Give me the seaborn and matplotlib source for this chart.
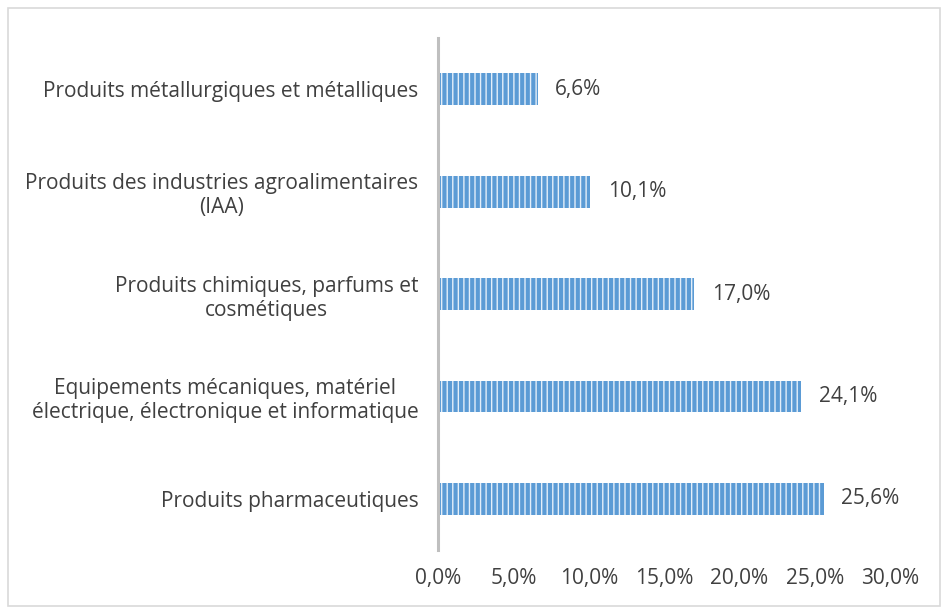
import matplotlib
matplotlib.use("Agg")
import matplotlib.pyplot as plt
import matplotlib.patches as mpatches
from matplotlib.ticker import FuncFormatter
import pandas as pd
import seaborn as sns

# ===== Data =====
categories = [
    "Produits métallurgiques et métalliques",
    "Produits des industries agroalimentaires\n(IAA)",
    "Produits chimiques, parfums et\ncosmétiques",
    "Equipements mécaniques, matériel\nélectrique, électronique et informatique",
    "Produits pharmaceutiques",
]
shares = [6.6, 10.1, 17.0, 24.1, 25.6]
x_ticks = [0, 5, 10, 15, 20, 25, 30]

TEXT = "#404040"
BLUE = "#5B9BD5"

sns.set_theme(style="white")
plt.rcParams["font.family"] = ["Open Sans", "DejaVu Sans"]
plt.rcParams["hatch.linewidth"] = 1.0

df = pd.DataFrame({"cat": categories, "val": shares})

fig = plt.figure(figsize=(9.42, 6.08), dpi=100)
ax = fig.add_axes([0.465, 0.0954, 0.480, 0.842])

sns.barplot(data=df, x="val", y="cat", orient="h", color=BLUE,
            width=0.31, saturation=1, ax=ax)

for p in ax.patches:
    p.set_facecolor(BLUE)
    p.set_edgecolor("#E3EEF9")
    p.set_linewidth(0)
    p.set_hatch("|||")

for p, v in zip(ax.patches, shares):
    ax.text(p.get_width() + 1.15, p.get_y() + p.get_height() / 2,
            f"{v:.1f}%".replace(".", ","), va="center", ha="left",
            fontsize=15, color=TEXT)

ax.set_xlim(0, 30)
ax.set_xticks(x_ticks)
ax.xaxis.set_major_formatter(FuncFormatter(lambda x, _: f"{x:.1f}%".replace(".", ",")))
ax.set_xlabel("")
ax.set_ylabel("")
ax.tick_params(axis="x", length=0, pad=13, labelsize=15, labelcolor=TEXT)
ax.tick_params(axis="y", length=0, pad=14, labelsize=15, labelcolor=TEXT)
for lbl in ax.get_yticklabels():
    lbl.set_multialignment("center")
    lbl.set_linespacing(1.2)

for s in ["top", "right", "bottom"]:
    ax.spines[s].set_visible(False)
ax.spines["left"].set_color("#BFBFBF")
ax.spines["left"].set_linewidth(2.2)
ax.grid(False)

# outer chart border
fig.patches.append(mpatches.Rectangle((8 / 942, 2 / 608), 932 / 942, 598 / 608,
                                      transform=fig.transFigure, fill=False,
                                      edgecolor="#D9D9D9", linewidth=1.2))

fig.savefig("out.png", dpi=100)
